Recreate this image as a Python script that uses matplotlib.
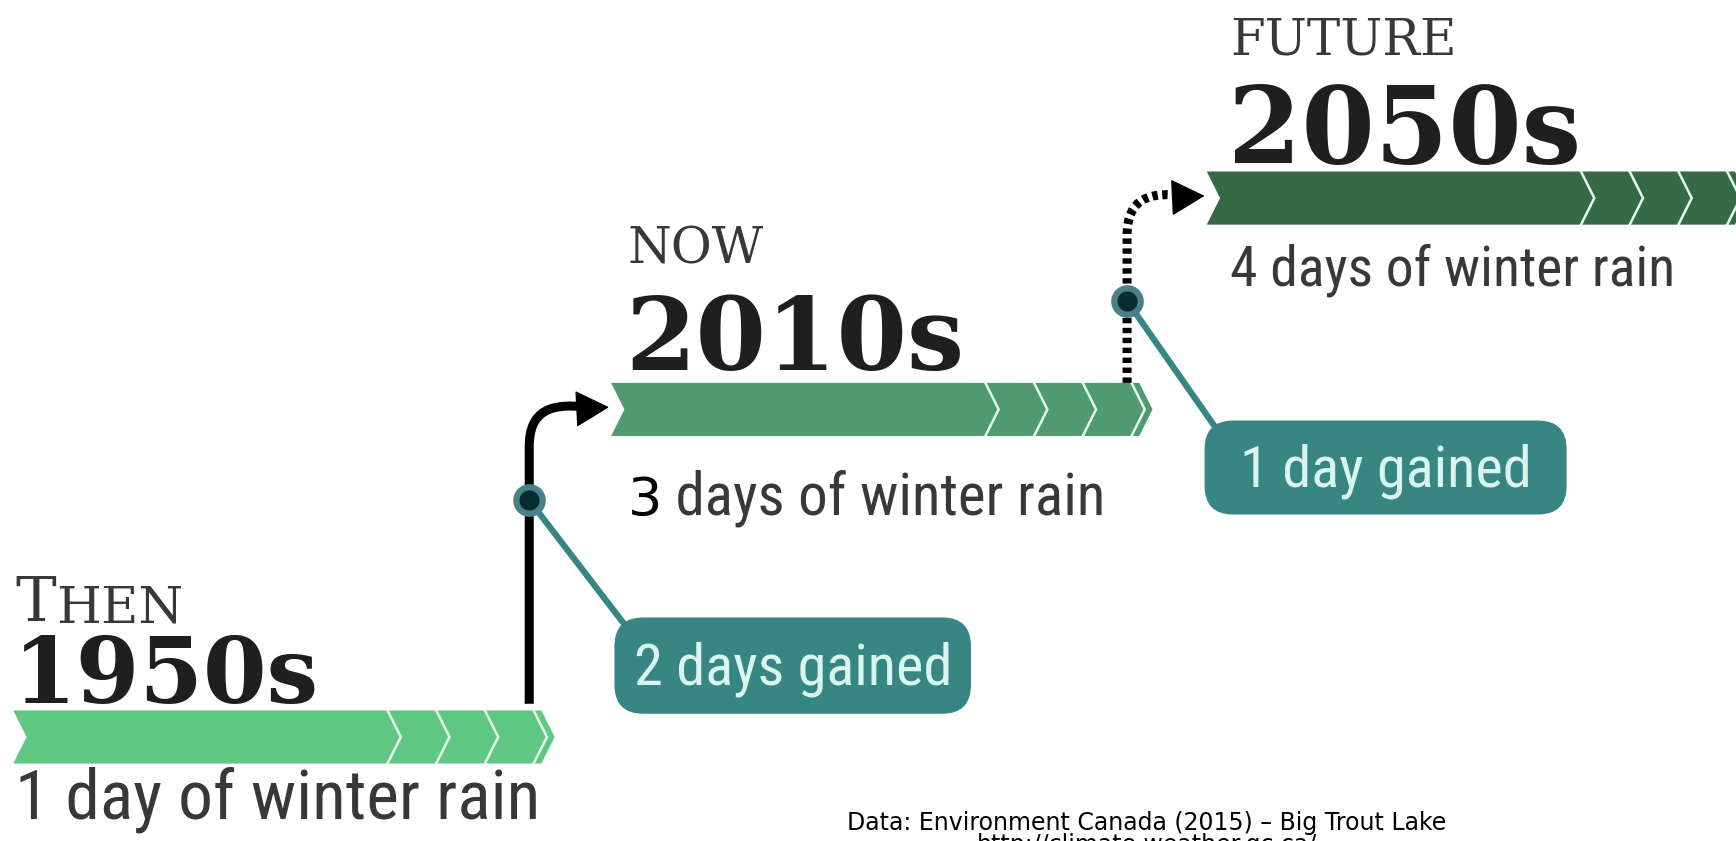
import matplotlib.pyplot as plt
from matplotlib.patches import Polygon, FancyBboxPatch, PathPatch
from matplotlib.path import Path
from matplotlib import font_manager

# content
periods = ['THEN', 'NOW', 'FUTURE']
decades = ['1950s', '2010s', '2050s']
rain_days = [1, 3, 4]
gained_days = [2, 1]
source = 'Data: Environment Canada (2015) \u2013 Big Trout Lake\nhttp://climate.weather.gc.ca/'

# styling
bar_colors = ['#5ec882', '#4f9a70', '#356a45']
teal = '#388683'
ring = '#4a8088'
dark = '#1f1f1f'
grey = '#383838'

names = {f.name for f in font_manager.fontManager.ttflist}
if 'Roboto Condensed' in names:
    cond = dict(family='Roboto Condensed')
elif 'Liberation Sans Narrow' in names:
    cond = dict(family='Liberation Sans Narrow')
else:
    cond = dict(family='DejaVu Sans', stretch='condensed')
slab = dict(family='DejaVu Serif')

# layout (in a 1568 x 760 canvas, y down)
bar_x = [12, 552, 1090]
bar_top = [642, 346, 155]
text_x = [14, 567, 1111]
period_base = [561, 238, 49]
decade_base = [635, 334, 147]
decade_size = [66, 73, 76]
rain_base = [740, 466, 258]
rain_size = [50, 42.5, 40]
step_x = [478, 1018]
dot_y = [452, 272]
badge_box = [(555, 558, 322, 87), (1088, 380, 327, 85)]

fig = plt.figure(figsize=(17.36, 8.41), dpi=100)
ax = fig.add_axes([0, 0, 1, 1])
ax.set_xlim(0, 1568)
ax.set_ylim(760, 0)
ax.axis('off')


def draw_bar(x0, top, color):
    h = 48
    mid = top + h / 2
    p = 12
    body = 338
    gap = 44
    xe = x0 + body + 3 * gap + 7
    verts = [(x0, top), (xe, top), (xe + p, mid), (xe, top + h),
             (x0, top + h), (x0 + p, mid)]
    ax.add_patch(Polygon(verts, closed=True, fc=color, ec='none', zorder=2))
    for k in range(4):
        xs = x0 + body + k * gap
        ax.plot([xs, xs + p, xs], [top, mid, top + h], color='#e6fbef',
                lw=1.8, zorder=3, solid_joinstyle='miter')


for i in range(3):
    draw_bar(bar_x[i], bar_top[i], bar_colors[i])

    # period label
    if periods[i] == 'THEN':
        t = ax.text(text_x[i], period_base[i], 'T', fontsize=44, color=grey,
                    va='baseline', ha='left', **slab)
        ax.annotate('HEN', xy=(1, 0), xycoords=t, fontsize=37, color=grey,
                    va='bottom', ha='left', **slab)
    else:
        ax.text(text_x[i], period_base[i], periods[i], fontsize=36, color=grey,
                va='baseline', ha='left', **slab)

    ax.text(text_x[i] - 2, decade_base[i], decades[i], fontsize=decade_size[i],
            color=dark, fontweight='bold', va='baseline', ha='left', **slab)

    n = rain_days[i]
    rest = ('day' if n == 1 else 'days') + ' of winter rain'
    if i == 1:
        t = ax.text(text_x[i], rain_base[i], str(n), fontsize=39, color='black',
                    va='baseline', ha='left', family='DejaVu Sans')
        ax.annotate(' ' + rest, xy=(1, 0), xycoords=t, fontsize=rain_size[i],
                    color=grey, va='bottom', ha='left', **cond)
    else:
        ax.text(text_x[i], rain_base[i], f'{n} {rest}', fontsize=rain_size[i],
                color=grey, va='baseline', ha='left', **cond)

# step arrows between periods
for j in range(2):
    x = step_x[j]
    y0 = bar_top[j] - 6 if j == 0 else bar_top[j]
    ytop = bar_top[j + 1] + 22
    xend = bar_x[j + 1] - 2
    verts = [(x, y0), (x, ytop + 36), (x, ytop + 2), (x + 20, ytop - 4), (xend - 18, ytop)]
    codes = [Path.MOVETO, Path.LINETO, Path.CURVE4, Path.CURVE4, Path.CURVE4]
    ls = '-' if j == 0 else (0, (0.6, 0.5))
    ax.add_patch(PathPatch(Path(verts, codes), fc='none', ec='black', lw=6.5,
                           ls=ls, capstyle='butt', zorder=4))
    ax.annotate('', xy=(xend, ytop), xytext=(xend - 20, ytop + 1),
                arrowprops=dict(arrowstyle='-|>,head_length=1.1,head_width=0.6',
                                color='black', lw=1, mutation_scale=20,
                                shrinkA=0, shrinkB=0), zorder=5)

    # leader to badge
    cy = dot_y[j]
    bx, by, bw, bh = badge_box[j]
    ax.plot([x, bx + 18], [cy, by + 18], color=teal, lw=4.5, zorder=5,
            solid_capstyle='round')
    ax.plot(x, cy, 'o', ms=19, mfc='#0a2b30', mec=ring, mew=4.5, zorder=6)

    ax.add_patch(FancyBboxPatch((bx, by), bw, bh,
                                boxstyle='round,pad=0,rounding_size=26',
                                fc=teal, ec='none', zorder=5))
    g = gained_days[j]
    ax.text(bx + bw / 2, by + bh / 2 + 3,
            f'{g} day{"s" if g > 1 else ""} gained', fontsize=42,
            color='#d8f6ef', ha='center', va='center', zorder=7, **cond)

ax.text(1036, 733, source, fontsize=17, color='black', ha='center', va='top',
        family='DejaVu Sans', linespacing=0.88)

fig.savefig('out.png', dpi=100, facecolor='white')
